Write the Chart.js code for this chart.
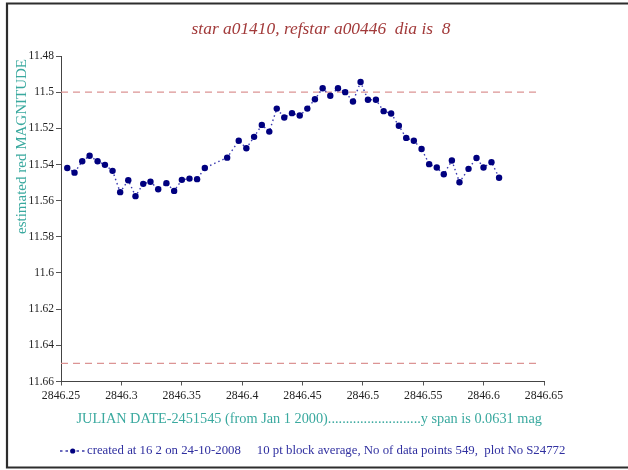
<!DOCTYPE html>
<html><head><meta charset="utf-8">
<script src="https://cdn.jsdelivr.net/npm/chart.js@4.4.0/dist/chart.umd.min.js"></script>
<style>html,body{margin:0;padding:0;background:#fff}canvas{display:block}</style>
</head><body>
<canvas id="c" width="628" height="470"></canvas>
<script>
// ---- data ----
const julianDates = [
  2846.2552, 2846.2612, 2846.2676, 2846.2737, 2846.2803, 2846.2864, 2846.2927, 2846.2990,
  2846.3057, 2846.3117, 2846.3181, 2846.3241, 2846.3305, 2846.3373, 2846.3437, 2846.3501,
  2846.3564, 2846.3627, 2846.3691, 2846.3876, 2846.3972, 2846.4035, 2846.4099, 2846.4163,
  2846.4225, 2846.4287, 2846.4349, 2846.4413, 2846.4477, 2846.4540, 2846.4603, 2846.4667,
  2846.4730, 2846.4794, 2846.4854, 2846.4918, 2846.4981, 2846.5042, 2846.5108, 2846.5172,
  2846.5234, 2846.5298, 2846.5359, 2846.5422, 2846.5486, 2846.5549, 2846.5612, 2846.5670,
  2846.5737, 2846.5800, 2846.5875, 2846.5941, 2846.5999, 2846.6065, 2846.6128
];
const magnitudes = [
  11.5419, 11.5445, 11.5382, 11.5352, 11.5382, 11.5402, 11.5435, 11.5553,
  11.5487, 11.5575, 11.5507, 11.5495, 11.5537, 11.5503, 11.5546, 11.5485,
  11.5478, 11.5481, 11.5419, 11.5362, 11.5269, 11.5310, 11.5247, 11.5181,
  11.5218, 11.5091, 11.5140, 11.5116, 11.5129, 11.5091, 11.5039, 11.4978,
  11.5020, 11.4978, 11.5000, 11.5052, 11.4944, 11.5042, 11.5042, 11.5105,
  11.5118, 11.5186, 11.5253, 11.5269, 11.5314, 11.5398, 11.5417, 11.5454,
  11.5378, 11.5498, 11.5424, 11.5364, 11.5417, 11.5387, 11.5473
];
const refLevels = [11.5, 11.65];
const refSpan = [2846.25, 2846.646];
const xTickValues = [2846.25, 2846.3, 2846.35, 2846.4, 2846.45, 2846.5, 2846.55, 2846.6, 2846.65];
const yTickValues = [11.48, 11.5, 11.52, 11.54, 11.56, 11.58, 11.6, 11.62, 11.64, 11.66];
const titleText = 'star a01410, refstar a00446  dia is  8';
const yTitleText = 'estimated red MAGNITUDE';
const xTitleText = 'JULIAN DATE-2451545 (from Jan 1 2000)' + '.'.repeat(26) + 'y span is 0.0631 mag';
const footText = 'created at 16 2 on 24-10-2008     10 pt block average, No of data points 549,  plot No S24772';

const SERIF = '"Liberation Serif","Times New Roman",serif';
const TEAL = '#3aa99f';

const decor = {
  id: 'decor',
  beforeDraw(chart) {
    const ctx = chart.ctx;
    ctx.save();
    ctx.fillStyle = '#fff';
    ctx.fillRect(0, 0, chart.width, chart.height);
    ctx.restore();
  },
  afterDraw(chart) {
    const ctx = chart.ctx;
    ctx.save();
    // frame
    ctx.strokeStyle = '#2d2d2d';
    ctx.lineWidth = 2.2;
    ctx.beginPath();
    ctx.moveTo(640, 3.5); ctx.lineTo(7, 3.5); ctx.lineTo(7, 467.5); ctx.lineTo(640, 467.5);
    ctx.stroke();
    // title
    ctx.fillStyle = '#a23a3a';
    ctx.font = 'italic 17.4px ' + SERIF;
    ctx.textAlign = 'center';
    ctx.textBaseline = 'middle';
    ctx.fillText(titleText, 321, 29);
    // y title
    ctx.save();
    ctx.translate(22, 146.5);
    ctx.rotate(-Math.PI / 2);
    ctx.fillStyle = TEAL;
    ctx.font = '15px ' + SERIF;
    ctx.fillText(yTitleText, 0, 0);
    ctx.restore();
    // x title
    ctx.fillStyle = TEAL;
    ctx.font = '14.3px ' + SERIF;
    ctx.textAlign = 'left';
    ctx.fillText(xTitleText, 76.5, 419);
    // footer legend
    const fy = 451;
    ctx.strokeStyle = '#3a3aa8';
    ctx.lineWidth = 1.3;
    ctx.setLineDash([2.5, 3]);
    ctx.beginPath(); ctx.moveTo(60, fy); ctx.lineTo(86, fy); ctx.stroke();
    ctx.setLineDash([]);
    ctx.fillStyle = '#00007f';
    ctx.beginPath(); ctx.arc(72.7, fy, 2.6, 0, Math.PI * 2); ctx.fill();
    ctx.fillStyle = '#3030a0';
    ctx.font = '12.8px ' + SERIF;
    ctx.fillText(footText, 87, fy);
    ctx.restore();
  }
};

const fmt = v => String(+(+v).toFixed(2));

new Chart(document.getElementById('c'), {
  type: 'scatter',
  data: {
    datasets: [
      {
        data: julianDates.map((x, i) => ({ x, y: magnitudes[i] })),
        showLine: true,
        borderColor: '#3a3ab0',
        borderWidth: 1.4,
        borderDash: [1.5, 3],
        pointRadius: 3.2,
        pointBackgroundColor: '#00007f',
        pointBorderColor: '#00007f',
        pointBorderWidth: 0
      },
      ...refLevels.map(lvl => ({
        data: refSpan.map(x => ({ x, y: lvl })),
        showLine: true,
        borderColor: '#dc9494',
        borderWidth: 1.3,
        borderDash: [7, 5],
        pointRadius: 0
      }))
    ]
  },
  options: {
    responsive: false,
    animation: false,
    devicePixelRatio: 1,
    layout: { padding: { top: 56, right: 84, left: 0, bottom: 0 } },
    plugins: { legend: { display: false }, tooltip: { enabled: false } },
    scales: {
      x: {
        type: 'linear', position: 'bottom', min: 2846.25, max: 2846.65,
        afterBuildTicks: s => { s.ticks = xTickValues.map(v => ({ value: v })); },
        afterFit: s => { s.height = 88.5; },
        ticks: { callback: fmt, font: { family: SERIF, size: 11.8 }, color: '#222', maxRotation: 0, autoSkip: false, padding: 3 },
        grid: { drawOnChartArea: false, tickLength: 4, color: '#555' },
        border: { color: '#444', width: 1 }
      },
      y: {
        type: 'linear', reverse: true, min: 11.48, max: 11.66,
        afterBuildTicks: s => { s.ticks = yTickValues.map(v => ({ value: v })); },
        afterFit: s => { s.width = 61; },
        ticks: { callback: fmt, font: { family: SERIF, size: 11.5 }, color: '#222', autoSkip: false, padding: 2 },
        grid: { drawOnChartArea: false, tickLength: 5, color: '#555' },
        border: { color: '#444', width: 1 }
      }
    }
  },
  plugins: [decor]
});
</script>
</body></html>
